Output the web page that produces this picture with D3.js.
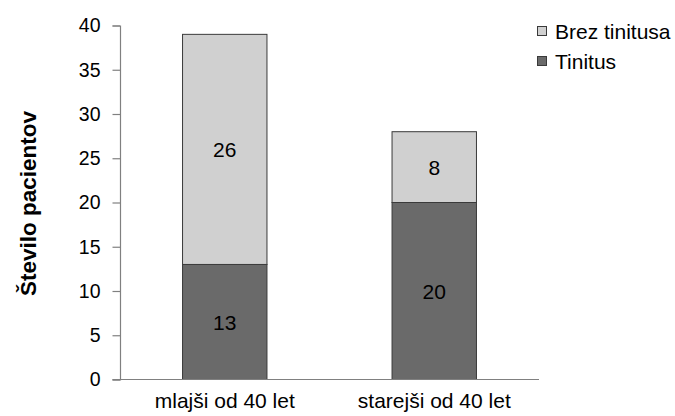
<!DOCTYPE html>
<html><head><meta charset="utf-8">
<script src="https://cdn.jsdelivr.net/npm/d3@7"></script>
<style>body{margin:0;background:#fff}svg{display:block}text{font-family:"Liberation Sans",Arial,sans-serif}</style>
</head><body><svg id="c" width="675" height="416"></svg>
<script>
const categories = ["mlajši od 40 let", "starejši od 40 let"];
const tinitus = [13, 20];
const brezTinitusa = [26, 8];
const seriesNames = ["Tinitus", "Brez tinitusa"];
const yTicks = [0, 5, 10, 15, 20, 25, 30, 35, 40];
const yTitle = "Število pacientov";

const FONT = '"Liberation Sans",Arial,sans-serif';
const colors = {"Tinitus": "#6a6a6a", "Brez tinitusa": "#d0d0d0"};
const svg = d3.select("#c");
const m = {l: 120, r: 136, t: 25.5, b: 36.5};
const W = 675, H = 416;
const x = d3.scaleBand().domain(categories).range([m.l, W - m.r]).padding(0);
const y = d3.scaleLinear().domain([0, 40]).range([H - m.b, m.t]);
const bw = x.bandwidth() * 0.403;

const rows = categories.map((c, i) => ({cat: c, "Tinitus": tinitus[i], "Brez tinitusa": brezTinitusa[i]}));
const stack = d3.stack().keys(seriesNames)(rows);

// y axis
const yAxis = svg.append("g").attr("transform", `translate(${m.l},0)`)
  .call(d3.axisLeft(y).tickValues(yTicks).tickSize(7.5).tickPadding(12));
yAxis.select(".domain").attr("stroke", "#808080").attr("stroke-width", 1.2);
yAxis.selectAll(".tick line").attr("stroke", "#808080").attr("stroke-width", 1.2);
yAxis.selectAll(".tick text").attr("font-size", 19.5).attr("fill", "#000").attr("font-family", FONT);

// bars
stack.forEach(s => {
  svg.append("g").selectAll("rect").data(s).join("rect")
    .attr("x", d => x(d.data.cat) + x.bandwidth() / 2 - bw / 2)
    .attr("width", bw)
    .attr("y", d => y(d[1]))
    .attr("height", d => y(d[0]) - y(d[1]))
    .attr("fill", colors[s.key])
    .attr("stroke", "#3a3a3a").attr("stroke-width", 1);
  svg.append("g").selectAll("text").data(s).join("text")
    .attr("x", d => x(d.data.cat) + x.bandwidth() / 2)
    .attr("y", d => (y(d[0]) + y(d[1])) / 2)
    .attr("dy", "0.36em")
    .attr("text-anchor", "middle").attr("font-size", 21).attr("fill", "#000")
    .text(d => d[1] - d[0]);
});

// x axis
const xAxis = svg.append("g").attr("transform", `translate(0,${y(0)})`)
  .call(d3.axisBottom(x).tickSize(0).tickPadding(14));
xAxis.select(".domain").attr("stroke", "#808080").attr("stroke-width", 1.2).attr("d", `M${m.l - 7.5},0H${W - m.r}`);
xAxis.selectAll(".tick text").attr("font-size", 21).attr("fill", "#000").attr("font-family", FONT);

// y title
svg.append("text").attr("transform", `translate(36,${(y(0) + y(40)) / 2 + 1}) rotate(-90)`)
  .attr("text-anchor", "middle").attr("font-size", 22.5).attr("font-weight", "bold").text(yTitle);

// legend
const legendOrder = ["Brez tinitusa", "Tinitus"];
const lg = svg.append("g").attr("transform", "translate(537.5,26.5)");
legendOrder.forEach((k, i) => {
  const g = lg.append("g").attr("transform", `translate(0,${i * 30})`);
  g.append("rect").attr("width", 9).attr("height", 9).attr("fill", colors[k]).attr("stroke", "#3a3a3a").attr("stroke-width", 1);
  g.append("text").attr("x", 17.5).attr("y", 4.5).attr("dy", "0.36em").attr("font-size", 21).text(k);
});
</script></body></html>
